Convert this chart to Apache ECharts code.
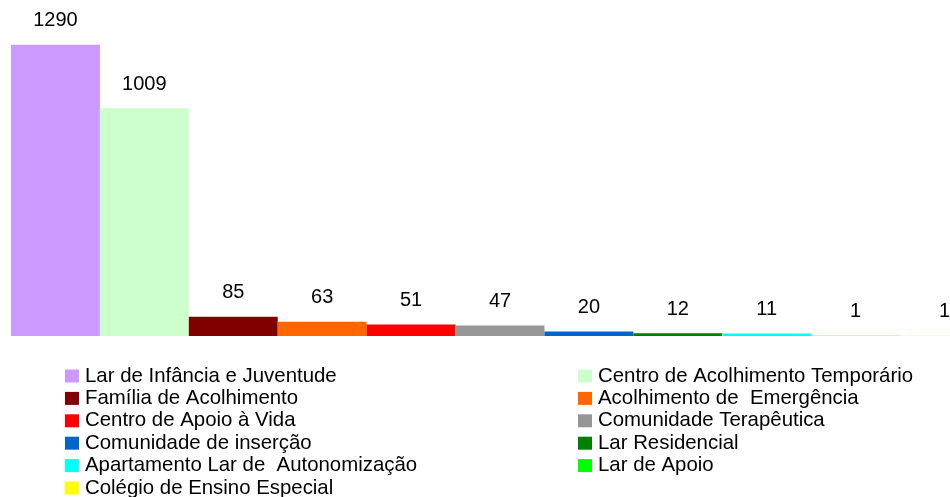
<!DOCTYPE html>
<html>
<head>
<meta charset="utf-8">
<script src="https://cdn.jsdelivr.net/npm/echarts@6/dist/echarts.min.js"></script>
<style>
  html, body { margin: 0; padding: 0; background: #fff; overflow: hidden; }
  /* the original plot runs past the right edge of the picture */
  #chart { width: 989px; height: 497px; }
</style>
</head>
<body>
<div id="chart"></div>
<script>
const categories = [
  'Lar de Infância e Juventude',
  'Centro de Acolhimento Temporário',
  'Família de Acolhimento',
  'Acolhimento de  Emergência',
  'Centro de Apoio à Vida',
  'Comunidade Terapêutica',
  'Comunidade de inserção',
  'Lar Residencial',
  'Apartamento Lar de  Autonomização',
  'Lar de Apoio',
  'Colégio de Ensino Especial'
]
const values = [1290, 1009, 85, 63, 51, 47, 20, 12, 11, 1, 1]
const colors = ['#CC99FF', '#CCFFCC', '#800000', '#FF6600', '#FF0000', '#969696',
  '#0066CC', '#008000', '#00FFFF', '#00FF00', '#FFFF00']

const chart = echarts.init(document.getElementById('chart'))

const series = categories.map((name, i) => ({
  name: name,
  type: 'bar',
  stack: 'all',
  barWidth: '100%',
  data: values.map((v, j) => (j === i ? v : '-')),
  itemStyle: { color: colors[i] },
  label: {
    show: true,
    position: 'top',
    distance: 14,
    color: '#000',
    fontFamily: 'Liberation Sans',
    fontSize: 20
  }
}))

const legendBase = {
  orient: 'vertical',
  top: 366,
  height: 140,
  padding: 0,
  icon: 'rect',
  itemWidth: 14,
  itemHeight: 13,
  itemGap: 2.4,
  selectedMode: false,
  textStyle: {
    color: '#000',
    fontFamily: 'Liberation Sans',
    fontSize: 20.4,
    lineHeight: 20,
    padding: [0, 0, 0, 1]
  }
}

const option = {
  animation: false,
  grid: { left: 11, right: 0, top: 20, bottom: 161 },
  legend: [
    Object.assign({}, legendBase, {
      left: 65,
      data: categories.filter((c, i) => i % 2 === 0)
    }),
    Object.assign({}, legendBase, {
      left: 578,
      data: categories.filter((c, i) => i % 2 === 1)
    })
  ],
  xAxis: {
    type: 'category',
    data: categories,
    show: false
  },
  yAxis: {
    type: 'value',
    min: 0,
    max: 1400,
    show: false
  },
  series: series
}

chart.setOption(option)
</script>
</body>
</html>
